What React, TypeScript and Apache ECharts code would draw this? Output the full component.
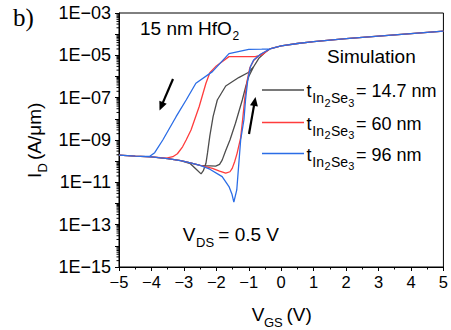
import React, { useEffect, useRef } from 'react';
import * as echarts from 'echarts';

type Pt = [number, number];

// V_GS (V) vs I_D (A/um)
const offBaseline: Pt[] = [
  [-5, 1.95e-10], [-4.5, 1.74e-10], [-4, 1.58e-10], [-3.5, 1.32e-10], [-3.1, 1.05e-10], [-2.8, 8.32e-11],
];
const onState: Pt[] = [
  [-0.35, 2.0e-5], [0, 2.82e-5], [0.5, 3.63e-5], [1, 4.47e-5], [2, 6.17e-5], [3, 8.13e-5], [4, 1.07e-4], [5, 1.38e-4],
];

const grayForward: Pt[] = [
  [-2.5, 6.31e-11], [-2.02, 5.89e-11], [-1.9, 7.08e-11], [-1.82, 1.12e-10], [-1.71, 3.16e-10], [-1.58, 1e-9],
  [-1.41, 6.17e-9], [-1.2, 7.76e-8], [-1.08, 3.98e-7], [-1.0, 1e-6], [-0.85, 2.88e-6], [-0.69, 7.24e-6], [-0.45, 1.58e-5],
];
const grayReverse: Pt[] = [
  [-0.45, 1.58e-5], [-0.69, 7.24e-6], [-0.85, 2.88e-6], [-1.0, 1.58e-6], [-1.31, 8.91e-7], [-1.71, 3.55e-7],
  [-1.97, 7.76e-8], [-2.1, 1.26e-8], [-2.2, 1.58e-9], [-2.27, 2.51e-10], [-2.32, 7.94e-11], [-2.4, 3.55e-11],
  [-2.47, 2.51e-11], [-2.62, 4.17e-11], [-2.8, 7.59e-11], [-3.1, 1.05e-10],
];

const redForward: Pt[] = [
  [-2.5, 6.31e-11], [-2.12, 4.57e-11], [-1.9, 3.39e-11], [-1.71, 2.69e-11], [-1.58, 3.16e-11], [-1.51, 4.57e-11],
  [-1.43, 1e-10], [-1.36, 2.34e-10], [-1.25, 1.26e-9], [-1.18, 1.26e-8], [-1.12, 1e-7], [-1.05, 6.31e-7],
  [-0.97, 2.51e-6], [-0.85, 5.62e-6], [-0.64, 1.1e-5],
];
const redReverse: Pt[] = [
  [-0.6, 1.05e-5], [-0.8, 8.71e-6], [-1.61, 8.71e-6], [-2.0, 3.16e-6], [-2.2, 1.51e-6], [-2.32, 4.79e-7],
  [-2.53, 3.72e-8], [-2.78, 2.95e-9], [-2.93, 1e-9], [-3.04, 4.79e-10], [-3.2, 2.24e-10], [-3.34, 1.62e-10],
  [-3.54, 1.38e-10],
];

const blueForward: Pt[] = [
  [-2.5, 6.31e-11], [-2.2, 4.17e-11], [-1.82, 1.86e-11], [-1.61, 6.31e-12], [-1.52, 2.82e-12], [-1.46, 1.17e-12],
  [-1.37, 4.37e-12], [-1.25, 1e-9], [-1.15, 8.91e-9], [-1.1, 7.76e-8], [-1.03, 6.92e-7], [-0.95, 2.88e-6],
  [-0.85, 6.03e-6], [-0.64, 1.12e-5],
];
const blueReverse: Pt[] = [
  [-0.6, 1.95e-5], [-1.0, 1.91e-5], [-1.61, 1.2e-5], [-2.12, 1.7e-6], [-2.63, 4.79e-7], [-2.93, 7.76e-8],
  [-3.24, 1.26e-8], [-3.65, 1e-9], [-3.9, 2.51e-10], [-4.05, 1.7e-10],
];

const legendLabels = ['= 14.7 nm', '= 60 nm', '= 96 nm'];
const colors = ['#4d4d4d', '#ff3c3c', '#2b6de6'];
const xTicks = { min: -5, max: 5, step: 1 };
const yDecades = { min: -15, max: -3 };

const SANS = '"Liberation Sans", Arial, sans-serif';
const SERIF = '"Liberation Serif", "Times New Roman", serif';

function buildLoop(fwd: Pt[], rev: Pt[]): number[][] {
  const f0 = fwd[0][0], f1 = fwd[fwd.length - 1][0];
  const r0 = rev[0][0], r1 = rev[rev.length - 1][0];
  const pts: Pt[] = [
    ...offBaseline.filter(p => p[0] < f0),
    ...fwd,
    ...onState.filter(p => p[0] > f1),
    ...onState.slice().reverse().filter(p => p[0] > r0),
    ...rev,
    ...offBaseline.slice().reverse().filter(p => p[0] < r1),
  ];
  return pts.map(([v, i]) => [v, Math.log10(i)]);
}

const minorLogTicks: number[] = [];
for (let n = yDecades.min; n < yDecades.max; n++) {
  for (let k = 2; k <= 9; k++) minorLogTicks.push(n + Math.log10(k));
}

function txt(text: string, x: number, y: number, size: number, family = SANS): any {
  return {
    type: 'text', x, y, silent: true, z: 100,
    style: {
      text, fontSize: size, fontFamily: family, fill: '#000',
      align: 'left', verticalAlign: 'middle', textAlign: 'left', textVerticalAlign: 'middle',
    },
  };
}

function arrow(tail: Pt, tip: Pt): any[] {
  const dx = tip[0] - tail[0], dy = tip[1] - tail[1];
  const len = Math.hypot(dx, dy);
  const ux = dx / len, uy = dy / len;
  const hl = 9, hw = 4;
  const bx = tip[0] - ux * hl, by = tip[1] - uy * hl;
  const px = -uy, py = ux;
  return [
    { type: 'line', silent: true, z: 100, shape: { x1: tail[0], y1: tail[1], x2: bx + ux, y2: by + uy }, style: { stroke: '#000', lineWidth: 2.2 } },
    { type: 'polygon', silent: true, z: 100, shape: { points: [[tip[0], tip[1]], [bx + px * hw, by + py * hw], [bx - px * hw, by - py * hw]] }, style: { fill: '#000' } },
  ];
}

function legendRow(y: number, label: string, color: string): any[] {
  return [
    { type: 'line', silent: true, z: 100, shape: { x1: 262, y1: y, x2: 304, y2: y }, style: { stroke: color, lineWidth: 1.3 } },
    txt('t', 306.5, y + 1, 18),
    txt('In', 312.3, y + 8.4, 14),
    txt('2', 324.5, y + 12.9, 11),
    txt('Se', 331, y + 8.4, 14),
    txt('3', 348.3, y + 12.9, 11),
    txt(label, 356, y + 1, 18),
  ];
}

export default function App() {
  const ref = useRef<HTMLDivElement>(null);
  useEffect(() => {
    document.body.style.margin = '0';
    const chart = echarts.init(ref.current!, undefined, { renderer: 'svg' });
    const loops = [
      buildLoop(grayForward, grayReverse),
      buildLoop(redForward, redReverse),
      buildLoop(blueForward, blueReverse),
    ];
    const option: any = {
      animation: false,
      grid: { left: 119, right: 5, top: 13, bottom: 63, show: true, borderColor: '#000', borderWidth: 1, backgroundColor: 'transparent' },
      xAxis: {
        type: 'value', min: xTicks.min, max: xTicks.max, interval: xTicks.step,
        axisLine: { show: true, onZero: false, lineStyle: { color: '#000', width: 1 } },
        axisTick: { show: true, length: 4, lineStyle: { color: '#000', width: 1 } },
        minorTick: { show: true, splitNumber: 2, length: 2.5, lineStyle: { color: '#000', width: 1 } },
        splitLine: { show: false },
        axisLabel: {
          color: '#000', fontSize: 16.5, fontFamily: SANS, margin: 6,
          formatter: (v: number) => (v < 0 ? '\u2212' + Math.abs(v) : String(v)),
        },
      },
      yAxis: {
        type: 'value', min: yDecades.min, max: yDecades.max, interval: 1,
        axisLine: { show: true, onZero: false, lineStyle: { color: '#000', width: 1 } },
        axisTick: { show: true, length: 4, lineStyle: { color: '#000', width: 1 } },
        splitLine: { show: false },
        axisLabel: {
          color: '#000', fontSize: 18, fontFamily: SANS, margin: 8,
          formatter: (v: number) => (Math.abs(v) % 2 === 1 ? '1E\u2212' + String(Math.abs(v)).padStart(2, '0') : ''),
        },
      },
      series: [
        ...loops.map((d, i) => ({
          type: 'line', data: d, showSymbol: false, symbol: 'none', smooth: false,
          lineStyle: { color: colors[i], width: 1.3 }, z: 2 + i, silent: true,
        })),
        {
          type: 'custom', silent: true, clip: false, z: 10,
          data: minorLogTicks.map(v => [xTicks.min, v]),
          renderItem: (_p: any, api: any) => {
            const c = api.coord([api.value(0), api.value(1)]);
            return { type: 'line', shape: { x1: c[0] - 2.5, y1: c[1], x2: c[0], y2: c[1] }, style: { stroke: '#000', lineWidth: 1 } };
          },
        },
      ],
      graphic: [
        txt('b)', 13, 17.6, 25, SERIF),
        txt('15 nm HfO', 140, 28.5, 19),
        txt('2', 232.5, 35.5, 12),
        txt('Simulation', 327, 56.6, 19),
        ...legendRow(90, legendLabels[0], colors[0]),
        ...legendRow(122.5, legendLabels[1], colors[1]),
        ...legendRow(153.5, legendLabels[2], colors[2]),
        txt('V', 182.7, 234, 19),
        txt('DS', 196, 242.1, 13),
        txt('= 0.5 V', 218.3, 234, 19),
        txt('V', 251.7, 314, 19),
        txt('GS', 264, 322, 13),
        txt('(V)', 286.5, 314, 19),
        {
          type: 'group', x: 34.4, y: 178, rotation: Math.PI / 2,
          children: [
            txt('I', 0, 0, 19),
            txt('D', 5.5, 8, 13),
            txt('(A/\u03bcm)', 18, 0, 19),
          ],
        },
        ...arrow([173, 79], [159.5, 110.5]),
        ...arrow([249, 134], [255.5, 97]),
      ],
    };
    chart.setOption(option);
    return () => chart.dispose();
  }, []);
  return <div ref={ref} style={{ width: 451, height: 330 }} />;
}
